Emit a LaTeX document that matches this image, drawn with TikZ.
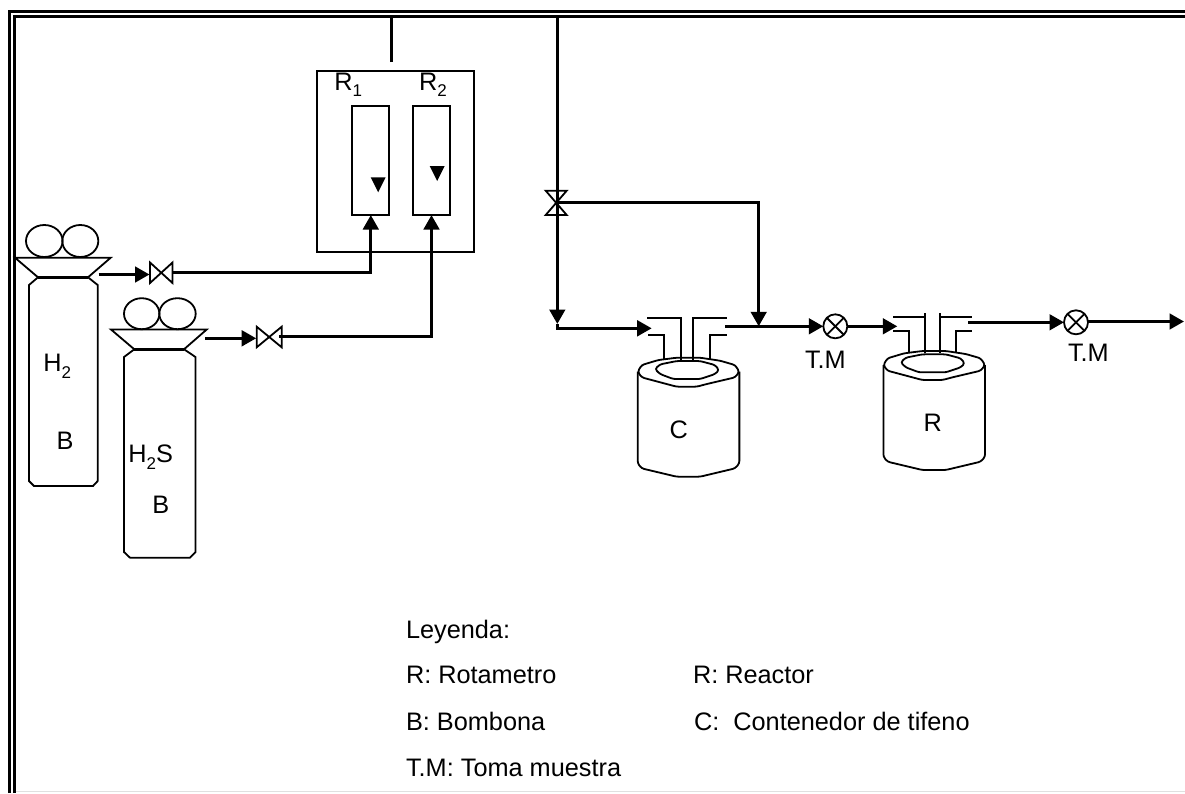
\documentclass[tikz,border=0pt]{standalone}
\usepackage{fontspec}
\setmainfont{Liberation Sans}
\usetikzlibrary{arrows.meta}
\newcommand{\subt}[1]{\raisebox{-6.5pt}{\fontsize{17}{17}\selectfont #1}}
\tikzset{
  thin line/.style={line width=1.8pt,black,line join=miter},
  pipe/.style={line width=3.2pt,black,line join=miter},
  flow/.style={pipe,-{Triangle[length=14.5pt,width=15.5pt,sep=0pt]}},
  framing/.style={line width=2.8pt,black},
  lbl/.style={anchor=base west,inner sep=0pt,outer sep=0pt,font=\fontsize{25.3}{25.3}\selectfont},
  lblc/.style={anchor=base,inner sep=0pt,outer sep=0pt,font=\fontsize{25.3}{25.3}\selectfont},
  tube/.style={draw,thin line,minimum width=37pt,minimum height=108.7pt,inner sep=0pt,outer sep=0pt},
  sampler/.style={draw,thin line,circle,minimum size=24pt,inner sep=0pt,outer sep=0pt},
  tank/.pic={
    \begin{scope}[x=0.33333pt,y=-0.33333pt,shift={(-323,-533)},thin line,rounded corners=2.5pt]
      \draw (323,575)--(335,555)--(385,540)--(440,533)--(510,533)--(570,542)--(615,555)--(628,575)--(615,592)--(530,612)--(500,620)--(440,620)--(410,612)--(335,592)--cycle;
      \draw (375,567)--(390,553)--(440,543)--(510,543)--(555,555)--(567,570)--(555,582)--(510,597)--(430,597)--(390,582)--cycle;
      \draw (323,575)--(323,850)--(335,865)--(440,890)--(510,890)--(615,865)--(628,850)--(628,575);
    \end{scope}
  },
}
\begin{document}
\begin{tikzpicture}[x=1pt,y=-1pt]
\useasboundingbox (0,0) rectangle (1185,793);
% frame
\draw[framing] (9.7,793)--(9.7,11.7)--(1185,11.7);
\draw[framing] (14.2,793)--(14.2,16.7)--(1185,16.7);
\draw[line width=1pt,black!12] (15.5,791.5)--(1185,791.5);

% bottle 1
\draw[thin line] (44.3,241) ellipse [x radius=18.3,y radius=16];
\draw[thin line] (80.3,241) ellipse [x radius=18,y radius=16];
\draw[thin line] (15,257.7)--(110.7,257.7)--(88,277.3)--(38,277.3)--cycle;
\draw[line width=3pt] (38,277.3)--(88,277.3);
\draw[thin line] (38,277.3)--(29,285)--(29,481)--(34,486)--(93,486)--(97.7,481)--(97.7,285)--(88,277.3);
% bottle 2
\draw[thin line] (141.7,313.7) ellipse [x radius=17.7,y radius=15.5];
\draw[thin line] (177.5,313.7) ellipse [x radius=18.2,y radius=15.5];
\draw[thin line] (111,329.5)--(206.7,329.5)--(184,349.3)--(134.3,349.3)--cycle;
\draw[line width=3pt] (134.3,349.3)--(184,349.3);
\draw[thin line] (134.3,349.3)--(124,357)--(124,552)--(130,557.7)--(190,557.7)--(195.5,552)--(195.5,357)--(184,349.3);

% valves
\coordinate (v1w) at (149.5,274.5);
\coordinate (v1e) at (172.5,272.7);
\coordinate (v2w) at (256.2,338.3);
\coordinate (v2e) at (279,336.7);
\coordinate (v3) at (557.3,202.5);
\draw[thin line] (150,262.5)--(172.5,283)--(172.5,262.5)--(150,283)--cycle;
\draw[thin line] (256.7,326.7)--(281.7,347.3)--(281.7,326.7)--(256.7,347.3)--cycle;
\draw[thin line] (545.7,190.7)--(566.7,190.7)--(545.7,215)--(566.7,215)--cycle;

% rotameter box
\node[draw,thin line,minimum width=157pt,minimum height=180.7pt,inner sep=0pt,outer sep=0pt] (panel) at (395.5,161.3) {};
\node[tube] (r1) at (370.8,160.7) {};
\node[tube] (r2) at (431.5,160.7) {};
\fill (370.7,177.3)--(385.7,177.3)--(378.2,192.3)--cycle;
\fill (429.7,166)--(444.7,166)--(437.2,181)--cycle;
\node[lbl] (r1l) at (334.3,90) {R\subt{1}};
\node[lbl] (r2l) at (419,90) {R\subt{2}};

% free ends
\coordinate (o1) at (98.5,274.5);
\coordinate (o2) at (205,338.3);
\coordinate (top) at (391.7,62);
\coordinate (bend) at (557.3,16.3);
\coordinate (down) at (557.3,324);
\coordinate (low) at (557.3,328.3);
\coordinate (c1in) at (651.7,328.3);
\coordinate (c1out) at (725,326.3);
\coordinate (mix) at (758.7,326.3);
\coordinate (r1in) at (897.3,326.3);
\coordinate (r1out) at (968.3,322.3);
\coordinate (end) at (1184,321.5);

% samplers
\node[sampler] (tm1) at (835.3,326.3) {};
\node[sampler] (tm2) at (1076,322.3) {};
\foreach \s in {tm1,tm2}{
  \draw[thin line] (\s.45)--(\s.225);
  \draw[thin line] (\s.135)--(\s.315);
}

% pipes
\draw[flow] (o1)--(v1w);
\draw[flow] (o2)--(v2w);
\draw[flow] (v1e)-|(r1.south);
\draw[flow] (v2e)-|(r2.south);
\draw[pipe] (top)|-(bend)--(v3);
\draw[flow] (v3)--(down);
\draw[flow] (down)--(low)--(c1in);
\draw[flow] (v3)-|(mix);
\draw[flow] (c1out)--(tm1.west);
\draw[flow] (tm1.east)--(r1in);
\draw[flow] (r1out)--(tm2.west);
\draw[flow] (tm2.east|-end)--(end);

% tanks
\pic (tankc) at (637.7,357.7) {tank};
\pic (tankr) at (883.4,351) {tank};
% nozzles C
\draw[thin line] (647.3,318)--(680.7,318)--(680.7,360);
\draw[thin line] (648.3,335.3)--(664,335.3)--(664,360);
\draw[thin line] (726.7,318)--(693.3,318)--(693.3,360);
\draw[thin line] (726.7,335.3)--(710,335.3)--(710,360);
% nozzles R
\draw[thin line] (893.3,316.7)--(925,316.7);
\draw[thin line] (925,313.3)--(925,353);
\draw[thin line] (893.3,331)--(909.3,331)--(909.3,353);
\draw[thin line] (971.7,316.7)--(940,316.7);
\draw[thin line] (940,313.3)--(940,353);
\draw[thin line] (971.7,331)--(955.7,331)--(955.7,353);

% labels
\node[lbl] (h2) at (43.3,371.7) {H\subt{2}};
\node[lbl] (b1) at (56.7,449.3) {B};
\node[lbl] (h2s) at (128.3,462.7) {H\subt{2}S};
\node[lbl] (b2) at (152.3,513.3) {B};
\node[lblc] (cl) at (678.7,438) {C};
\node[lblc] (rl) at (932.7,431.7) {R};
\node[lbl] (tml1) at (805,368.3) {T.M};
\node[lbl] (tml2) at (1068,361.7) {T.M};
% legend
\node[lbl] (l0) at (406,638.3) {Leyenda:};
\node[lbl] (l1) at (406,683.3) {R: Rotametro};
\node[lbl] (l2) at (406,730) {B: Bombona};
\node[lbl] (l3) at (406,776) {T.M: Toma muestra};
\node[lbl] (l4) at (693,683.3) {R: Reactor};
\node[lbl] (l5) at (694,730) {C:\ \ Contenedor de tifeno};
\end{tikzpicture}
\end{document}
